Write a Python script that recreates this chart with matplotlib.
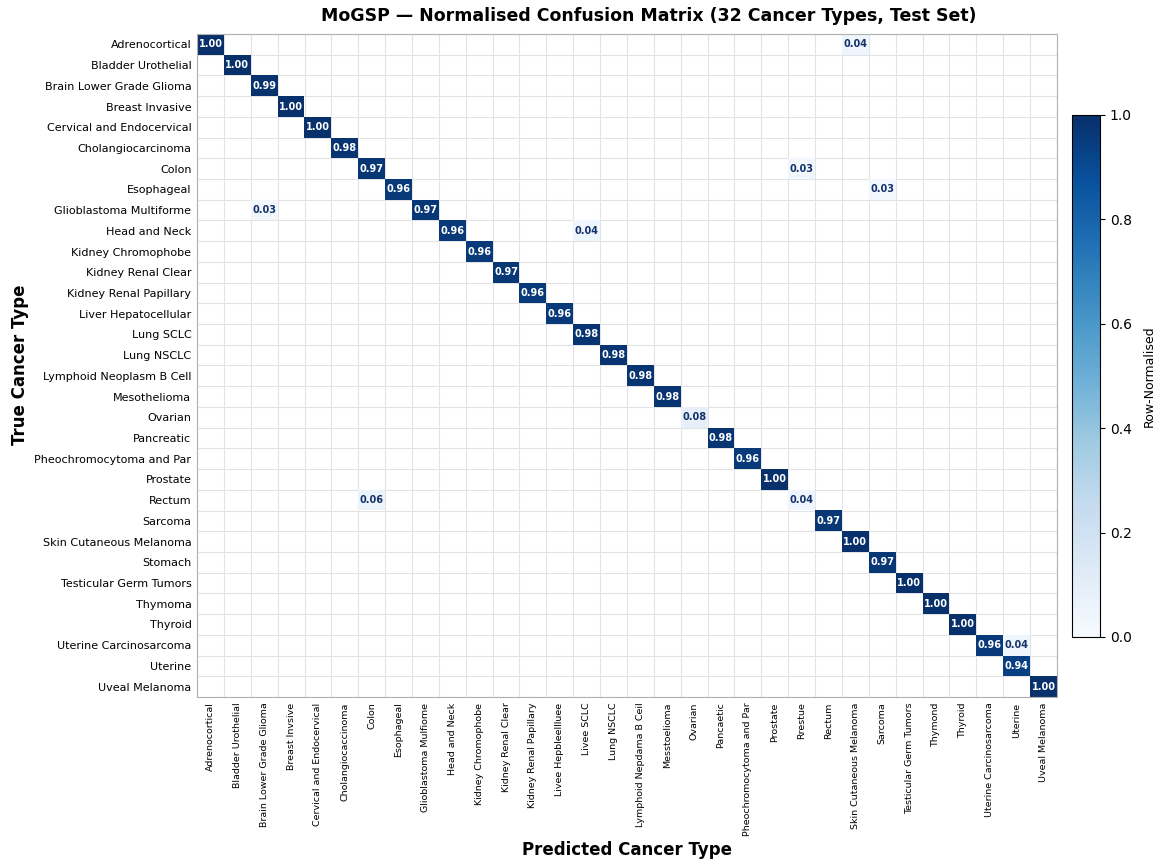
import numpy as np
import matplotlib
matplotlib.use("Agg")
import matplotlib.pyplot as plt

# class names (rows = true, columns = predicted)
true_labels = [
    "Adrenocortical", "Bladder Urothelial", "Brain Lower Grade Glioma",
    "Breast Invasive", "Cervical and Endocervical", "Cholangiocarcinoma",
    "Colon", "Esophageal", "Glioblastoma Multiforme", "Head and Neck",
    "Kidney Chromophobe", "Kidney Renal Clear", "Kidney Renal Papillary",
    "Liver Hepatocellular", "Lung SCLC", "Lung NSCLC",
    "Lymphoid Neoplasm B Cell", "Mesothelioma", "Ovarian", "Pancreatic",
    "Pheochromocytoma and Par", "Prostate", "Rectum", "Sarcoma",
    "Skin Cutaneous Melanoma", "Stomach", "Testicular Germ Tumors",
    "Thymoma", "Thyroid", "Uterine Carcinosarcoma", "Uterine",
    "Uveal Melanoma",
]
pred_labels = [
    "Adrenocortical", "Bladder Urothelial", "Brain Lower Grade Glioma",
    "Breast Invsive", "Cervical and Endocervical", "Cholangiocaccinoma",
    "Colon", "Esophageal", "Glioblastoma Mulfiome", "Head and Neck",
    "Kidney Chromophobe", "Kidney Renal Clear", "Kidney Renal Papillary",
    "Livee Hepbleellluee", "Livee SCLC", "Lung NSCLC",
    "Lymphoid Nepdama B Ceil", "Messtoelioma", "Ovarian", "Pancaetic",
    "Pheochromocytoma and Par", "Prostate", "Rrestue", "Rectum",
    "Skin Cutaneous Melanoma", "Sarcoma", "Testicular Germ Tumors",
    "Thymond", "Thyroid", "Uterine Carcinosarcoma", "Uterine",
    "Uveal Melanoma",
]

# row-normalised diagonal
diag_vals = [1.00, 1.00, 0.99, 1.00, 1.00, 0.98, 0.97, 0.96, 0.97, 0.96,
             0.96, 0.97, 0.96, 0.96, 0.98, 0.98, 0.98, 0.98, 0.08, 0.98,
             0.96, 1.00, 0.04, 0.97, 1.00, 0.97, 1.00, 1.00, 1.00, 0.96,
             0.94, 1.00]
# off-diagonal confusions: (true row, predicted col, fraction)
off_rows = [0, 6, 7, 8, 9, 22, 29]
off_cols = [24, 22, 25, 2, 14, 6, 30]
off_vals = [0.04, 0.03, 0.03, 0.03, 0.04, 0.06, 0.04]

n = len(true_labels)
cm = np.zeros((n, n))
cm[np.arange(n), np.arange(n)] = diag_vals
cm[off_rows, off_cols] = off_vals

fig = plt.figure(figsize=(11.63, 8.61), dpi=100)
ax = fig.add_axes([0.1694, 0.1905, 0.7394, 0.7700])
cax = fig.add_axes([0.9217, 0.2602, 0.0241, 0.6063])

# zero cells stay transparent so the grid shows through them
im = ax.imshow(np.ma.masked_equal(cm, 0), cmap="Blues", vmin=0, vmax=1,
               aspect="auto", interpolation="nearest", zorder=1)

for i in range(n):
    for j in range(n):
        v = cm[i, j]
        if v > 0:
            ax.text(j, i, f"{v:.2f}", ha="center", va="center",
                    fontsize=7, fontweight="bold", zorder=3,
                    color="white" if v > 0.5 else "#15316b")

ax.set_xticks(np.arange(n))
ax.set_yticks(np.arange(n))
ax.set_xticklabels(pred_labels, rotation=90, fontsize=6.8)
ax.set_yticklabels(true_labels, fontsize=8)
ax.set_xticks(np.arange(-0.5, n, 1), minor=True)
ax.set_yticks(np.arange(-0.5, n, 1), minor=True)
ax.set_axisbelow(True)
ax.grid(which="minor", color="#e3e3e3", linewidth=0.8)
ax.tick_params(which="minor", length=0)
ax.tick_params(which="major", length=0, pad=4)
for sp in ax.spines.values():
    sp.set_color("#b0b0b0")

fig.text(0.539, 0.0128, "Predicted Cancer Type", ha="center", va="center",
         fontsize=12, fontweight="bold")
fig.text(0.0172, 0.576, "True Cancer Type", ha="center", va="center",
         rotation=90, fontsize=12, fontweight="bold")
fig.suptitle("MoGSP — Normalised Confusion Matrix (32 Cancer Types, Test Set)",
             x=0.558, y=0.992, fontsize=12.5, fontweight="bold")

cb = fig.colorbar(im, cax=cax)
cb.set_ticks([0.0, 0.2, 0.4, 0.6, 0.8, 1.0])
cb.ax.tick_params(labelsize=10)
cb.set_label("Row-Normalised", fontsize=9, labelpad=8)

fig.savefig("out.png", dpi=100)
